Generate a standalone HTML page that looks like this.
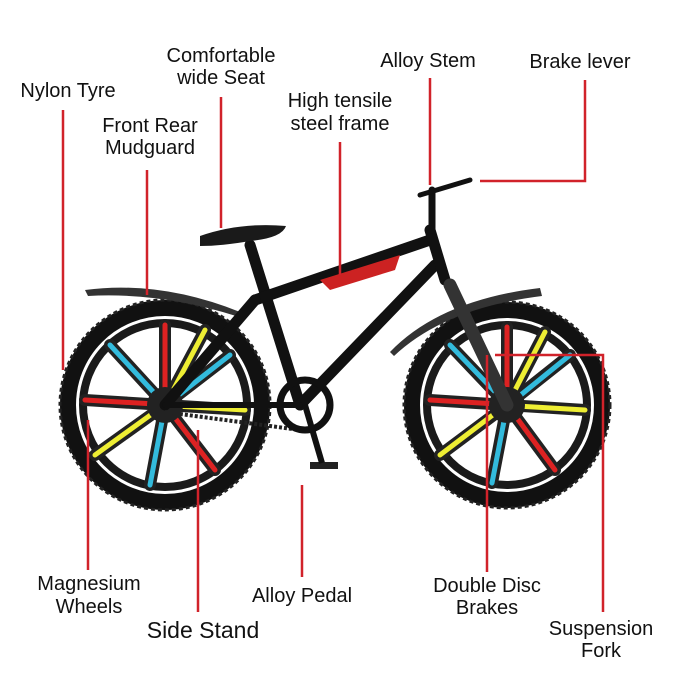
<!DOCTYPE html>
<html><head><meta charset="utf-8"><style>
html,body{margin:0;padding:0;background:#fff;}
svg{display:block;}
text{font-family:"Liberation Sans",sans-serif;font-size:20px;fill:#111;text-anchor:middle;}
</style></head><body>
<svg width="679" height="679" viewBox="0 0 679 679">
<rect width="679" height="679" fill="#fff"/>
<!-- rear wheel -->
<g>
<circle cx="165" cy="405" r="97" fill="none" stroke="#111" stroke-width="16"/>
<circle cx="165" cy="405" r="105" fill="none" stroke="#222" stroke-width="3" stroke-dasharray="4 3"/>
<circle cx="165" cy="405" r="82" fill="none" stroke="#1a1a1a" stroke-width="8"/>
<g stroke-width="12" stroke-linecap="round" stroke="#222">
<line x1="165" y1="405" x2="165" y2="325"/><line x1="165" y1="405" x2="230" y2="355"/>
<line x1="165" y1="405" x2="245" y2="410"/><line x1="165" y1="405" x2="215" y2="470"/>
<line x1="165" y1="405" x2="150" y2="485"/><line x1="165" y1="405" x2="95" y2="455"/>
<line x1="165" y1="405" x2="85" y2="400"/><line x1="165" y1="405" x2="110" y2="345"/>
<line x1="165" y1="405" x2="205" y2="330"/>
</g>
<g stroke-width="5" stroke-linecap="round">
<line x1="165" y1="395" x2="165" y2="325" stroke="#d22"/>
<line x1="175" y1="398" x2="230" y2="355" stroke="#3bd"/>
<line x1="175" y1="406" x2="245" y2="410" stroke="#ee3"/>
<line x1="172" y1="414" x2="215" y2="470" stroke="#d22"/>
<line x1="163" y1="416" x2="150" y2="485" stroke="#3bd"/>
<line x1="156" y1="411" x2="95" y2="455" stroke="#ee3"/>
<line x1="155" y1="404" x2="85" y2="400" stroke="#d22"/>
<line x1="158" y1="397" x2="110" y2="345" stroke="#3bd"/>
<line x1="170" y1="396" x2="205" y2="330" stroke="#ee3"/>
</g>
<circle cx="165" cy="405" r="18" fill="#222"/>
</g>
<!-- front wheel -->
<g>
<circle cx="507" cy="405" r="95" fill="none" stroke="#111" stroke-width="16"/>
<circle cx="507" cy="405" r="103" fill="none" stroke="#222" stroke-width="3" stroke-dasharray="4 3"/>
<circle cx="507" cy="405" r="80" fill="none" stroke="#1a1a1a" stroke-width="8"/>
<g stroke-width="12" stroke-linecap="round" stroke="#222">
<line x1="507" y1="405" x2="507" y2="327"/><line x1="507" y1="405" x2="570" y2="355"/>
<line x1="507" y1="405" x2="585" y2="410"/><line x1="507" y1="405" x2="555" y2="470"/>
<line x1="507" y1="405" x2="492" y2="483"/><line x1="507" y1="405" x2="440" y2="455"/>
<line x1="507" y1="405" x2="430" y2="400"/><line x1="507" y1="405" x2="450" y2="345"/>
<line x1="507" y1="405" x2="545" y2="332"/>
</g>
<g stroke-width="5" stroke-linecap="round">
<line x1="507" y1="395" x2="507" y2="327" stroke="#d22"/>
<line x1="517" y1="398" x2="570" y2="355" stroke="#3bd"/>
<line x1="517" y1="406" x2="585" y2="410" stroke="#ee3"/>
<line x1="514" y1="414" x2="555" y2="470" stroke="#d22"/>
<line x1="505" y1="416" x2="492" y2="483" stroke="#3bd"/>
<line x1="498" y1="411" x2="440" y2="455" stroke="#ee3"/>
<line x1="497" y1="404" x2="430" y2="400" stroke="#d22"/>
<line x1="500" y1="397" x2="450" y2="345" stroke="#3bd"/>
<line x1="512" y1="396" x2="545" y2="332" stroke="#ee3"/>
</g>
<circle cx="507" cy="405" r="18" fill="#222"/>
</g>
<!-- mudguards -->
<path d="M85 290 Q160 280 240 312 L236 316 Q160 292 88 296 Z" fill="#333"/>
<path d="M390 352 Q440 300 540 288 L542 296 Q445 308 394 356 Z" fill="#333"/>
<!-- frame -->
<g stroke="#111" stroke-width="11" stroke-linecap="round" fill="none">
<line x1="250" y1="245" x2="300" y2="405"/>
<line x1="255" y1="300" x2="430" y2="240"/>
<line x1="300" y1="405" x2="435" y2="265"/>
<line x1="165" y1="405" x2="255" y2="300"/>
<line x1="165" y1="405" x2="300" y2="405" stroke-width="6"/>
<line x1="430" y1="230" x2="445" y2="280"/>
<line x1="450" y1="285" x2="507" y2="405" stroke-width="13" stroke="#333"/>
<line x1="432" y1="230" x2="432" y2="190" stroke-width="7"/>
<line x1="420" y1="195" x2="470" y2="180" stroke-width="5"/>
<line x1="250" y1="245" x2="245" y2="232" stroke-width="6"/>
</g>
<path d="M165 412 L300 430" stroke="#222" stroke-width="4" stroke-dasharray="3 2"/>
<path d="M320 280 L400 255 L395 270 L330 290 Z" fill="#c22"/>
<path d="M200 236 Q240 222 286 226 Q282 238 250 241 Q222 246 200 246 Z" fill="#1a1a1a"/>
<circle cx="305" cy="405" r="25" fill="none" stroke="#111" stroke-width="7"/>
<rect x="310" y="462" width="28" height="7" fill="#222"/>
<line x1="305" y1="405" x2="322" y2="463" stroke="#111" stroke-width="6"/>
<!-- red leader lines -->
<g stroke="#d1222a" stroke-width="2.5" fill="none">
<line x1="63" y1="110" x2="63" y2="370"/>
<line x1="147" y1="170" x2="147" y2="295"/>
<line x1="221" y1="97" x2="221" y2="228"/>
<line x1="340" y1="142" x2="340" y2="275"/>
<line x1="430" y1="78" x2="430" y2="185"/>
<polyline points="585,80 585,181 480,181"/>
<line x1="88" y1="420" x2="88" y2="570"/>
<line x1="198" y1="430" x2="198" y2="612"/>
<line x1="302" y1="485" x2="302" y2="577"/>
<line x1="487" y1="355" x2="487" y2="572"/>
<polyline points="495,355 603,355 603,612"/>
</g>
<!-- labels -->
<text x="68" y="97">Nylon Tyre</text>
<text x="150" y="132">Front Rear</text>
<text x="150" y="154">Mudguard</text>
<text x="221" y="62">Comfortable</text>
<text x="221" y="84">wide Seat</text>
<text x="340" y="107">High tensile</text>
<text x="340" y="130">steel frame</text>
<text x="428" y="67">Alloy Stem</text>
<text x="580" y="68">Brake lever</text>
<text x="89" y="590">Magnesium</text>
<text x="89" y="613">Wheels</text>
<text x="203" y="638" style="font-size:23px">Side Stand</text>
<text x="302" y="602">Alloy Pedal</text>
<text x="487" y="592">Double Disc</text>
<text x="487" y="614">Brakes</text>
<text x="601" y="635">Suspension</text>
<text x="601" y="657">Fork</text>
</svg>
</body></html>
